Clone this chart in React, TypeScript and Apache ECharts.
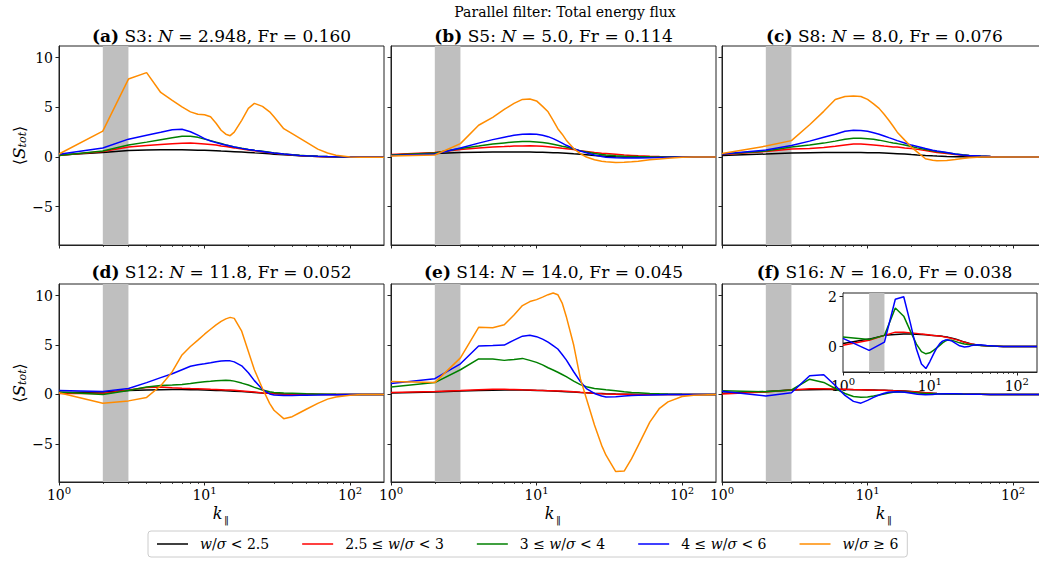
import React, { useEffect, useRef } from "react";
import * as echarts from "echarts";

// ---------------- data ----------------
const K = [1, 2, 3, 4, 5, 6, 7, 8, 9, 10, 11, 12, 13, 14, 15, 16, 18, 20, 22, 25, 28, 30, 35, 40, 45, 50, 60, 70, 80, 100, 120, 171];

const LABELS = ["w/σ < 2.5", "2.5 ≤ w/σ < 3", "3 ≤ w/σ < 4", "4 ≤ w/σ < 6", "w/σ ≥ 6"];
const COLORS = ["#000000", "#ff0000", "#008000", "#0000ff", "#ff8c00"];

const PANEL_TAGS = ["(a)", "(b)", "(c)", "(d)", "(e)", "(f)"];
const RUNS = ["S3", "S5", "S8", "S12", "S14", "S16"];
const N_VALUES = ["2.948", "5.0", "8.0", "11.8", "14.0", "16.0"];
const FR_VALUES = ["0.160", "0.114", "0.076", "0.052", "0.045", "0.038"];
const SUPTITLE = "Parallel filter: Total energy flux";
const X_NAME = "k";
const X_NAME_SUB = "\u2016";

const BAND = [2, 3];
const X_MAJOR = [1, 10, 100];
const X_MINOR = [2, 3, 4, 5, 6, 7, 8, 9, 20, 30, 40, 50, 60, 70, 80, 90];
const X_RANGE = [1, 171];
const Y_RANGE = [-8.86, 11.18];
const Y_TICKS = [-5, 0, 5, 10];
const INSET_Y_RANGE = [-1.02, 2.15];
const INSET_Y_TICKS = [0, 2];

// (a) S3
const S3_BLACK = [0.2, 0.45, 0.65, 0.7, 0.72, 0.72, 0.72, 0.71, 0.69, 0.67, 0.65, 0.63, 0.6, 0.58, 0.56, 0.54, 0.5, 0.46, 0.42, 0.37, 0.32, 0.29, 0.23, 0.18, 0.14, 0.1, 0.06, 0.03, 0.02, 0.01, 0, 0];
const S3_RED = [0.15, 0.55, 1.0, 1.15, 1.25, 1.33, 1.38, 1.4, 1.37, 1.32, 1.26, 1.2, 1.12, 1.05, 0.98, 0.92, 0.8, 0.7, 0.62, 0.52, 0.44, 0.38, 0.28, 0.2, 0.15, 0.11, 0.06, 0.03, 0.02, 0.01, 0, 0];
const S3_GREEN = [0.15, 0.6, 1.2, 1.5, 1.75, 1.95, 2.08, 2.1, 1.98, 1.8, 1.65, 1.5, 1.36, 1.22, 1.1, 1.02, 0.88, 0.76, 0.67, 0.57, 0.47, 0.41, 0.31, 0.23, 0.17, 0.13, 0.07, 0.04, 0.02, 0.01, 0, 0];
const S3_BLUE = [0.27, 0.9, 1.8, 2.2, 2.5, 2.75, 2.8, 2.55, 2.2, 1.85, 1.62, 1.45, 1.32, 1.2, 1.1, 1.0, 0.87, 0.76, 0.67, 0.56, 0.46, 0.4, 0.3, 0.22, 0.16, 0.12, 0.07, 0.04, 0.02, 0.01, 0, 0];
const S3_ORANGE = [0.3, 2.6, 7.85, 8.5, 6.5, 5.7, 5.05, 4.55, 4.3, 4.25, 4.05, 3.4, 2.7, 2.3, 2.15, 2.5, 3.7, 4.9, 5.4, 5.1, 4.55, 4.05, 2.85, 2.35, 1.9, 1.5, 0.8, 0.4, 0.17, 0, -0.03, -0.03];

// (b) S5
const S5_BLACK = [0.2, 0.35, 0.45, 0.48, 0.5, 0.5, 0.5, 0.5, 0.5, 0.49, 0.48, 0.46, 0.44, 0.42, 0.4, 0.38, 0.32, 0.27, 0.22, 0.15, 0.1, 0.07, 0.03, 0.01, 0, 0, 0, 0, 0, 0, 0, 0];
const S5_RED = [0.25, 0.45, 0.75, 0.9, 1.0, 1.05, 1.1, 1.12, 1.14, 1.12, 1.08, 1.03, 0.98, 0.93, 0.88, 0.84, 0.75, 0.62, 0.55, 0.45, 0.38, 0.35, 0.27, 0.2, 0.16, 0.12, 0.08, 0.05, 0.03, 0.01, 0, 0];
const S5_GREEN = [0.2, 0.4, 0.85, 1.1, 1.3, 1.42, 1.52, 1.56, 1.56, 1.52, 1.46, 1.38, 1.28, 1.18, 1.08, 1.0, 0.8, 0.62, 0.5, 0.35, 0.25, 0.2, 0.12, 0.08, 0.06, 0.04, 0.02, 0.01, 0, 0, 0, 0];
const S5_BLUE = [0.15, 0.3, 0.9, 1.4, 1.75, 2.0, 2.2, 2.3, 2.33, 2.3, 2.2, 2.05, 1.85, 1.62, 1.4, 1.18, 0.85, 0.6, 0.42, 0.2, 0.05, -0.02, -0.08, -0.1, -0.1, -0.1, -0.08, -0.05, -0.03, -0.01, 0, 0];
const S5_ORANGE = [0.1, 0.2, 1.35, 3.2, 4.0, 4.8, 5.4, 5.8, 5.85, 5.65, 5.1, 4.55, 3.7, 2.85, 2.3, 1.7, 0.85, 0.35, 0.0, -0.27, -0.42, -0.47, -0.55, -0.53, -0.48, -0.42, -0.28, -0.2, -0.13, -0.03, 0, 0];

// (c) S8
const S8_BLACK = [0.15, 0.3, 0.4, 0.43, 0.45, 0.45, 0.45, 0.45, 0.45, 0.44, 0.43, 0.42, 0.4, 0.38, 0.36, 0.34, 0.3, 0.25, 0.21, 0.16, 0.12, 0.1, 0.06, 0.03, 0.02, 0.01, 0, 0, 0, 0, 0, 0];
const S8_RED = [0.25, 0.55, 0.8, 0.85, 0.95, 1.08, 1.2, 1.3, 1.3, 1.25, 1.2, 1.15, 1.1, 1.06, 1.02, 1.0, 0.92, 0.85, 0.77, 0.65, 0.53, 0.45, 0.35, 0.25, 0.18, 0.13, 0.08, 0.05, 0.03, 0.01, 0, 0];
const S8_GREEN = [0.3, 0.6, 1.0, 1.2, 1.4, 1.6, 1.8, 1.9, 1.9, 1.85, 1.78, 1.7, 1.6, 1.5, 1.42, 1.35, 1.2, 1.05, 0.92, 0.75, 0.62, 0.55, 0.42, 0.3, 0.22, 0.16, 0.1, 0.06, 0.03, 0.01, 0, 0];
const S8_BLUE = [0.3, 0.7, 1.15, 1.6, 2.0, 2.3, 2.6, 2.7, 2.68, 2.6, 2.45, 2.3, 2.12, 1.95, 1.8, 1.65, 1.42, 1.2, 1.05, 0.85, 0.68, 0.6, 0.45, 0.3, 0.2, 0.15, 0.1, 0.06, 0.03, 0.01, 0, 0];
const S8_ORANGE = [0.35, 1.1, 1.65, 3.25, 4.6, 5.8, 6.1, 6.15, 6.1, 5.8, 5.35, 4.9, 4.3, 3.7, 3.1, 2.5, 1.7, 1.0, 0.5, -0.17, -0.32, -0.37, -0.35, -0.25, -0.15, -0.07, 0, 0, 0, 0, 0, 0];

// (d) S12
const S12_BLACK = [0.2, 0.25, 0.4, 0.45, 0.48, 0.5, 0.5, 0.48, 0.47, 0.45, 0.43, 0.41, 0.39, 0.37, 0.35, 0.33, 0.29, 0.25, 0.21, 0.15, 0.11, 0.09, 0.05, 0.03, 0.02, 0.02, 0.01, 0, 0, 0, 0, 0];
const S12_RED = [0.1, 0.1, 0.45, 0.7, 0.75, 0.68, 0.63, 0.6, 0.58, 0.55, 0.52, 0.5, 0.48, 0.46, 0.44, 0.42, 0.36, 0.3, 0.24, 0.16, 0.11, 0.08, 0.04, 0.02, 0.01, 0.01, 0, 0, 0, 0, 0, 0];
const S12_GREEN = [0.25, 0.0, 0.4, 0.75, 0.9, 0.95, 1.0, 1.1, 1.2, 1.28, 1.33, 1.38, 1.42, 1.45, 1.42, 1.35, 1.15, 0.95, 0.72, 0.45, 0.28, 0.2, 0.15, 0.12, 0.09, 0.06, 0.03, 0.02, 0.01, 0, 0, 0];
const S12_BLUE = [0.4, 0.3, 0.6, 1.2, 1.7, 2.1, 2.5, 2.85, 3.0, 3.1, 3.2, 3.3, 3.38, 3.42, 3.4, 3.3, 2.9, 2.2, 1.4, 0.5, 0.05, -0.05, -0.1, -0.1, -0.08, -0.07, -0.05, -0.03, -0.02, 0, 0, 0];
const S12_ORANGE = [0.17, -0.88, -0.65, -0.3, 0.88, 2.3, 4.0, 4.85, 5.5, 6.1, 6.6, 7.05, 7.4, 7.65, 7.8, 7.7, 6.4, 4.35, 2.5, 0.6, -0.9, -1.6, -2.45, -2.25, -1.85, -1.5, -0.9, -0.47, -0.25, -0.07, 0, 0];

// (e) S14
const S14_BLACK = [0.15, 0.25, 0.35, 0.4, 0.43, 0.45, 0.45, 0.45, 0.43, 0.41, 0.39, 0.37, 0.35, 0.33, 0.3, 0.28, 0.24, 0.2, 0.17, 0.12, 0.09, 0.07, 0.04, 0.02, 0.01, 0, 0, 0, 0, 0, 0, 0];
const S14_RED = [0.2, 0.3, 0.4, 0.48, 0.52, 0.52, 0.5, 0.47, 0.45, 0.42, 0.4, 0.38, 0.37, 0.36, 0.35, 0.33, 0.28, 0.22, 0.17, 0.11, 0.07, 0.05, 0.02, 0.01, 0, 0, 0, 0, 0, 0, 0, 0];
const S14_GREEN = [0.75, 1.2, 2.5, 3.6, 3.6, 3.45, 3.55, 3.65, 3.45, 3.25, 3.0, 2.7, 2.48, 2.25, 2.02, 1.8, 1.35, 1.0, 0.78, 0.6, 0.52, 0.47, 0.37, 0.27, 0.21, 0.17, 0.1, 0.06, 0.04, 0.01, 0, 0];
const S14_BLUE = [1.1, 1.6, 3.1, 4.9, 4.95, 5.0, 5.5, 5.9, 6.0, 5.85, 5.6, 5.3, 4.95, 4.6, 4.05, 3.5, 2.3, 1.3, 0.6, 0.1, -0.15, -0.25, -0.22, -0.15, -0.1, -0.08, -0.05, -0.02, -0.01, 0, 0, 0];
const S14_ORANGE = [1.3, 1.2, 3.7, 6.8, 6.75, 7.05, 8.05, 9.0, 9.4, 9.6, 9.85, 10.1, 10.27, 10.1, 9.25, 7.9, 5.0, 1.6, -0.4, -3.1, -5.15, -6.15, -7.8, -7.75, -6.5, -5.15, -2.8, -1.4, -0.75, -0.2, -0.07, 0];

// (f) S16
const S16_BLACK = [0.12, 0.3, 0.45, 0.48, 0.5, 0.5, 0.49, 0.48, 0.47, 0.45, 0.44, 0.43, 0.42, 0.41, 0.39, 0.38, 0.34, 0.3, 0.25, 0.18, 0.13, 0.1, 0.06, 0.04, 0.03, 0.02, 0.01, 0, 0, 0, 0, 0];
const S16_RED = [0.05, 0.25, 0.45, 0.58, 0.58, 0.55, 0.53, 0.5, 0.48, 0.46, 0.44, 0.43, 0.42, 0.4, 0.38, 0.36, 0.32, 0.28, 0.24, 0.17, 0.12, 0.1, 0.06, 0.04, 0.03, 0.02, 0.01, 0, 0, 0, 0, 0];
const S16_GREEN = [0.38, 0.28, 0.45, 1.55, 1.22, 0.6, 0.1, -0.2, -0.29, -0.25, -0.15, -0.05, 0.05, 0.15, 0.22, 0.26, 0.25, 0.2, 0.15, 0.1, 0.08, 0.07, 0.05, 0.04, 0.03, 0.02, 0.01, 0, 0, 0, 0, 0];
const S16_BLUE = [0.33, -0.15, 0.18, 1.9, 2.0, 0.9, -0.1, -0.7, -0.88, -0.6, -0.3, -0.05, 0.12, 0.22, 0.26, 0.27, 0.22, 0.12, 0.03, -0.02, 0.0, 0.04, 0.07, 0.06, 0.04, 0.03, 0.01, 0, 0, 0, 0, 0];

const PANEL_SERIES: (number[] | null)[][] = [
  [S3_BLACK, S3_RED, S3_GREEN, S3_BLUE, S3_ORANGE],
  [S5_BLACK, S5_RED, S5_GREEN, S5_BLUE, S5_ORANGE],
  [S8_BLACK, S8_RED, S8_GREEN, S8_BLUE, S8_ORANGE],
  [S12_BLACK, S12_RED, S12_GREEN, S12_BLUE, S12_ORANGE],
  [S14_BLACK, S14_RED, S14_GREEN, S14_BLUE, S14_ORANGE],
  [S16_BLACK, S16_RED, S16_GREEN, S16_BLUE, null],
];

// ---------------- layout / style ----------------
const W = 1039;
const H = 563;
const FONT = "DejaVu Serif";
const AXIS_COLOR = "#222222";
const TEXT_COLOR = "#000000";
const COL_LEFT = [59, 391, 722];
const ROW_TOP = [46, 284];
const PANEL_W = 325;
const ROW_H = [199, 198];
const TITLE_CY = [36, 272];
const XNAME_TOP = 505;
const INSET = { left: 843, top: 293, width: 194, height: 79 };

const LOG = (v: number) => Math.log10(v);

const xLabelRich = {
  b: { fontSize: 14, fontFamily: FONT, color: TEXT_COLOR },
  s: { fontSize: 10, fontFamily: FONT, color: TEXT_COLOR, padding: [0, 0, 9, 0] },
};

function fmtY(v: number) {
  return v < 0 ? "\u2212" + Math.abs(v) : String(v);
}

function makeXAxes(gridIndex: number, height: number, showLabels: boolean, labelMargin: number) {
  const main: any = {
    type: "value",
    gridIndex,
    min: LOG(X_RANGE[0]),
    max: LOG(X_RANGE[1]),
    position: "bottom",
    axisLine: { show: true, onZero: false, lineStyle: { color: AXIS_COLOR, width: 1 } },
    axisTick: { show: true, length: 3.5, customValues: X_MAJOR.map(LOG), lineStyle: { color: AXIS_COLOR, width: 1 } },
    axisLabel: {
      show: showLabels,
      customValues: X_MAJOR.map(LOG),
      margin: labelMargin,
      formatter: (v: number) => `{b|10}{s|${Math.round(v)}}`,
      rich: xLabelRich,
    },
    splitLine: { show: false },
  };
  const minor: any = {
    type: "value",
    gridIndex,
    min: LOG(X_RANGE[0]),
    max: LOG(X_RANGE[1]),
    position: "top",
    offset: -height,
    axisLine: { show: false, onZero: false },
    axisTick: { show: true, inside: true, length: 2, customValues: X_MINOR.map(LOG), lineStyle: { color: AXIS_COLOR, width: 0.8 } },
    axisLabel: { show: false },
    splitLine: { show: false },
  };
  return [main, minor];
}

function makeYAxis(gridIndex: number, range: number[], ticks: number[], showLabels: boolean, showName: boolean) {
  const ax: any = {
    type: "value",
    gridIndex,
    min: range[0],
    max: range[1],
    position: "left",
    axisLine: { show: true, onZero: false, lineStyle: { color: AXIS_COLOR, width: 1 } },
    axisTick: { show: true, length: 3.5, customValues: ticks, lineStyle: { color: AXIS_COLOR, width: 1 } },
    axisLabel: {
      show: showLabels,
      customValues: ticks,
      margin: 6,
      formatter: fmtY,
      fontSize: 14,
      fontFamily: FONT,
      color: TEXT_COLOR,
    },
    splitLine: { show: false },
  };
  if (showName) {
    ax.name = "{ang|\u27E8}{ss|S}{tt|tot}{ang|\u27E9}";
    ax.nameLocation = "middle";
    ax.nameGap = 30;
    ax.nameRotate = 90;
    ax.nameTextStyle = {
      color: TEXT_COLOR,
      fontFamily: FONT,
      rich: {
        ang: { fontSize: 16, fontFamily: "DejaVu Sans", color: TEXT_COLOR },
        ss: { fontSize: 17, fontStyle: "italic", fontFamily: FONT, color: TEXT_COLOR },
        tt: { fontSize: 11, fontStyle: "italic", fontFamily: FONT, color: TEXT_COLOR, padding: [7, 0, 0, 0] },
      },
    };
  }
  return ax;
}

function legendRich(name: string) {
  return name.replace(/w/g, "{i|w}").replace(/σ/g, "{i|σ}");
}

function buildOption() {
  const grid: any[] = [];
  const xAxis: any[] = [];
  const yAxis: any[] = [];
  const series: any[] = [];
  const graphic: any[] = [];
  const title: any[] = [
    {
      text: SUPTITLE,
      left: 565,
      top: 4,
      textAlign: "center",
      padding: 0,
      textStyle: { fontSize: 14, fontWeight: "normal", fontFamily: FONT, color: TEXT_COLOR, lineHeight: 16 },
    },
  ];

  for (let p = 0; p < 6; p++) {
    const row = Math.floor(p / 3);
    const col = p % 3;
    const left = COL_LEFT[col];
    const top = ROW_TOP[row];
    const height = ROW_H[row];
    grid.push({
      left,
      top,
      width: PANEL_W,
      height,
      show: true,
      borderColor: AXIS_COLOR,
      borderWidth: 1,
      backgroundColor: "transparent",
      containLabel: false,
      outerBoundsMode: "none",
    });
    xAxis.push(...makeXAxes(p, height, row === 1, 3));
    yAxis.push(makeYAxis(p, Y_RANGE, Y_TICKS, col === 0, col === 0));

    if (row === 1) {
      const cx = left + PANEL_W / 2;
      graphic.push({
        type: "text",
        x: cx - 4,
        y: XNAME_TOP,
        silent: true,
        style: { text: X_NAME, fill: TEXT_COLOR, font: `italic 16px "${FONT}"`, align: "center", verticalAlign: "top" },
      });
      graphic.push({
        type: "text",
        x: cx + 5,
        y: XNAME_TOP + 9,
        silent: true,
        style: { text: X_NAME_SUB, fill: TEXT_COLOR, font: `10px "${FONT}"`, align: "center", verticalAlign: "top" },
      });
    }

    title.push({
      text: `{b|${PANEL_TAGS[p]}} ${RUNS[p]}: {i|N} = ${N_VALUES[p]}, Fr = ${FR_VALUES[p]}`,
      left: left + PANEL_W / 2,
      top: TITLE_CY[row] - 10,
      textAlign: "center",
      padding: 0,
      textStyle: {
        fontSize: 17,
        fontWeight: "normal",
        fontFamily: FONT,
        color: TEXT_COLOR,
        lineHeight: 20,
        rich: {
          b: { fontSize: 17, fontWeight: "bold", fontFamily: FONT, color: TEXT_COLOR, lineHeight: 20 },
          i: { fontSize: 17, fontStyle: "italic", fontFamily: FONT, color: TEXT_COLOR, lineHeight: 20 },
        },
      },
    });

    PANEL_SERIES[p].forEach((vals, j) => {
      if (!vals) return;
      const s: any = {
        type: "line",
        name: LABELS[j],
        xAxisIndex: 2 * p,
        yAxisIndex: p,
        data: K.map((k, i) => [LOG(k), vals[i]]),
        symbol: "none",
        showSymbol: false,
        silent: true,
        z: 2,
        lineStyle: { color: COLORS[j], width: 1.5 },
        itemStyle: { color: COLORS[j] },
      };
      if (j === 0) {
        s.markArea = {
          silent: true,
          itemStyle: { color: "#bfbfbf", opacity: 1 },
          data: [[{ xAxis: LOG(BAND[0]) }, { xAxis: LOG(BAND[1]) }]],
        };
      }
      series.push(s);
    });
  }

  // inset in panel (f)
  const g = 6;
  grid.push({
    left: INSET.left,
    top: INSET.top,
    width: INSET.width,
    height: INSET.height,
    show: true,
    borderColor: AXIS_COLOR,
    borderWidth: 1,
    backgroundColor: "#ffffff",
    containLabel: false,
    outerBoundsMode: "none",
    z: 3,
  });
  xAxis.push(...makeXAxes(g, INSET.height, true, 4));
  yAxis.push(makeYAxis(g, INSET_Y_RANGE, INSET_Y_TICKS, true, false));
  PANEL_SERIES[5].forEach((vals, j) => {
    if (!vals) return;
    const s: any = {
      type: "line",
      name: LABELS[j],
      xAxisIndex: 2 * g,
      yAxisIndex: g,
      data: K.map((k, i) => [LOG(k), vals[i]]),
      symbol: "none",
      showSymbol: false,
      silent: true,
      z: 5,
      lineStyle: { color: COLORS[j], width: 1.5 },
      itemStyle: { color: COLORS[j] },
    };
    if (j === 0) {
      s.markArea = {
        silent: true,
        z: 4,
        itemStyle: { color: "#bfbfbf", opacity: 1 },
        data: [[{ xAxis: LOG(BAND[0]) }, { xAxis: LOG(BAND[1]) }]],
      };
    }
    series.push(s);
  });

  return {
    animation: false,
    backgroundColor: "#ffffff",
    textStyle: { fontFamily: FONT },
    title,
    grid,
    xAxis,
    yAxis,
    series,
    graphic,
    legend: {
      show: true,
      data: LABELS,
      left: 148,
      top: 531,
      orient: "horizontal",
      icon: "rect",
      itemWidth: 31,
      itemHeight: 1.5,
      itemGap: 33,
      padding: [6, 9],
      borderColor: "#cccccc",
      borderWidth: 1,
      borderRadius: 3,
      backgroundColor: "#ffffff",
      formatter: legendRich,
      textStyle: {
        fontSize: 14,
        fontFamily: FONT,
        color: TEXT_COLOR,
        padding: [0, 0, 0, 7],
        rich: {
          i: { fontSize: 14, fontStyle: "italic", fontFamily: FONT, color: TEXT_COLOR },
        },
      },
    },
  };
}

export default function App() {
  const ref = useRef<HTMLDivElement>(null);
  useEffect(() => {
    if (!ref.current) return;
    const chart = echarts.init(ref.current, undefined, { renderer: "svg", width: W, height: H });
    chart.setOption(buildOption() as any);
    return () => chart.dispose();
  }, []);
  return (
    <div style={{ position: "fixed", left: 0, top: 0, width: W, height: H, background: "#fff" }}>
      <div ref={ref} style={{ width: W, height: H }} />
    </div>
  );
}
